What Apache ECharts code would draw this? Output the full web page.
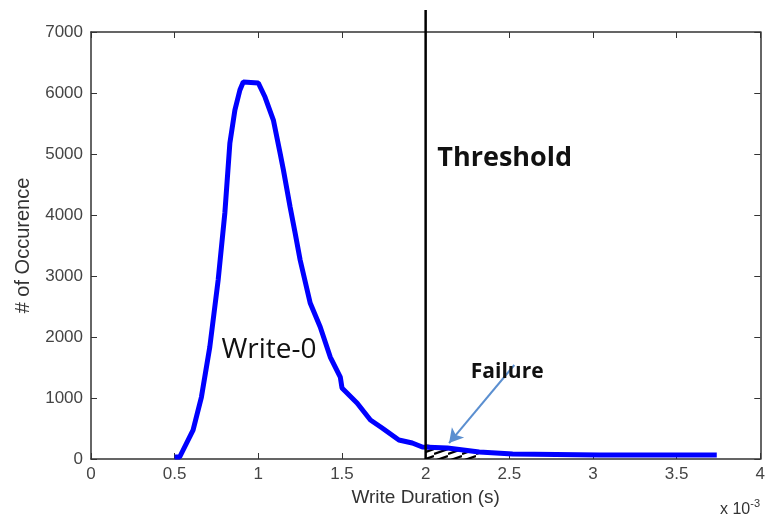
<!DOCTYPE html>
<html><head><meta charset="utf-8">
<script src="https://cdn.jsdelivr.net/npm/echarts@6/dist/echarts.min.js"></script>
<style>html,body{margin:0;padding:0;background:#fff}#c{width:768px;height:519px}</style>
</head><body><div id="c"></div>
<script>
// Write Duration (x1e-3 s) and # of occurrences
var xVals = [0.50,0.53,0.61,0.66,0.71,0.76,0.80,0.83,0.86,0.89,0.91,1.00,1.04,1.09,1.13,1.15,1.19,1.22,1.25,1.31,1.37,1.43,1.49,1.50,1.59,1.67,1.74,1.84,1.92,1.98,2.13,2.32,2.52,3.04,3.74];
var yVals = [33,33,475,1016,1836,2934,4033,5180,5721,6049,6180,6164,5934,5557,5016,4738,4131,3705,3262,2557,2164,1672,1344,1164,918,639,508,311,262,197,180,115,82,66,66];
// failure tail (hatched) region
var failX = [2.00,2.13,2.32];
var failY = [240,190,95];
var xTicks = ['0','0.5','1','1.5','2','2.5','3','3.5','4'];
var threshold = 2.0;

var lineData = xVals.map(function(x,i){return [x,yVals[i]];});
var failData = failX.map(function(x,i){return [x,failY[i]];});

var pc = document.createElement('canvas');
pc.width = 14; pc.height = 7;
var g = pc.getContext('2d');
g.strokeStyle = '#000'; g.lineWidth = 2.2;
g.beginPath(); g.moveTo(0,6); g.lineTo(14,1); g.stroke();

var chart = echarts.init(document.getElementById('c'));
var axisTxt = {color:'#444', fontFamily:'Liberation Sans', fontSize:17};
var tick = {show:true,inside:true,length:6,lineStyle:{color:'#333'}};
var aline = {show:true,onZero:false,lineStyle:{color:'#333',width:1.5}};
chart.setOption({
  animation:false,
  grid:{left:91,right:7,top:32,bottom:60},
  xAxis:[{type:'value',min:0,max:4,interval:0.5,
    axisLine:aline, axisTick:tick, splitLine:{show:false},
    axisLabel:Object.assign({margin:7,formatter:function(v){return xTicks[Math.round(v*2)];}},axisTxt),
    name:'Write Duration (s)',nameLocation:'middle',nameGap:26,
    nameTextStyle:{color:'#333',fontFamily:'Liberation Sans',fontSize:19}},
   {type:'value',position:'top',min:0,max:4,interval:0.5,
    axisLine:aline, axisTick:tick, axisLabel:{show:false},splitLine:{show:false}}],
  yAxis:[{type:'value',min:0,max:7000,interval:1000,
    axisLine:aline, axisTick:tick, splitLine:{show:false},
    axisLabel:Object.assign({margin:8,formatter:function(v){return String(v);}},axisTxt),
    name:'# of Occurence',nameLocation:'middle',nameGap:58,nameRotate:90,
    nameTextStyle:{color:'#333',fontFamily:'Liberation Sans',fontSize:20}},
   {type:'value',position:'right',min:0,max:7000,interval:1000,
    axisLine:aline, axisTick:tick, axisLabel:{show:false},splitLine:{show:false}}],
  series:[
    {type:'line',data:failData,symbol:'none',lineStyle:{width:0},
     areaStyle:{color:{image:pc,repeat:'repeat'},opacity:1},z:1},
    {type:'line',data:lineData,symbol:'none',clip:false,
     lineStyle:{color:'#0000ff',width:5},z:3,
     markLine:{silent:true,symbol:['none','none'],animation:false,
       data:[
         [{coord:[2.53,1541],lineStyle:{color:'#5b8fd0',width:2,type:'solid'},symbol:'none'},{coord:[2.14,262],symbol:'arrow',symbolSize:[12,14]}]
       ],label:{show:false}},
     markPoint:{symbol:'rect',symbolSize:0,silent:true,
       data:[
         {coord:[2.07,4934],label:{show:true,position:'right',distance:0,formatter:'Threshold',color:'#111',fontWeight:'bold',fontSize:27,fontFamily:'Open Sans'}},
         {coord:[0.78,1787],label:{show:true,position:'right',distance:0,formatter:'Write-0',color:'#111',fontSize:28,fontFamily:'Open Sans'}},
         {coord:[2.27,1426],label:{show:true,position:'right',distance:0,formatter:'Failure',color:'#111',fontWeight:'bold',fontSize:21,fontFamily:'Open Sans'}}
       ]}}
  ]
});
// threshold line: from axis bottom, extending a bit above the plot box
var p0 = chart.convertToPixel({xAxisIndex:0,yAxisIndex:0},[threshold,0]);
var p1 = chart.convertToPixel({xAxisIndex:0,yAxisIndex:0},[threshold,7000]);
chart.setOption({graphic:[
  {type:'line',z:10,shape:{x1:p0[0],y1:p0[1],x2:p1[0],y2:p1[1]-22},style:{stroke:'#000',lineWidth:2.5}},
  {type:'text',right:8,bottom:1,style:{
    text:'x 10{s|-3}',fill:'#333',font:'16px Liberation Sans',
    rich:{s:{fontSize:11,verticalAlign:'top',padding:[0,0,12,0],fill:'#333'}}}}
]});
</script></body></html>
